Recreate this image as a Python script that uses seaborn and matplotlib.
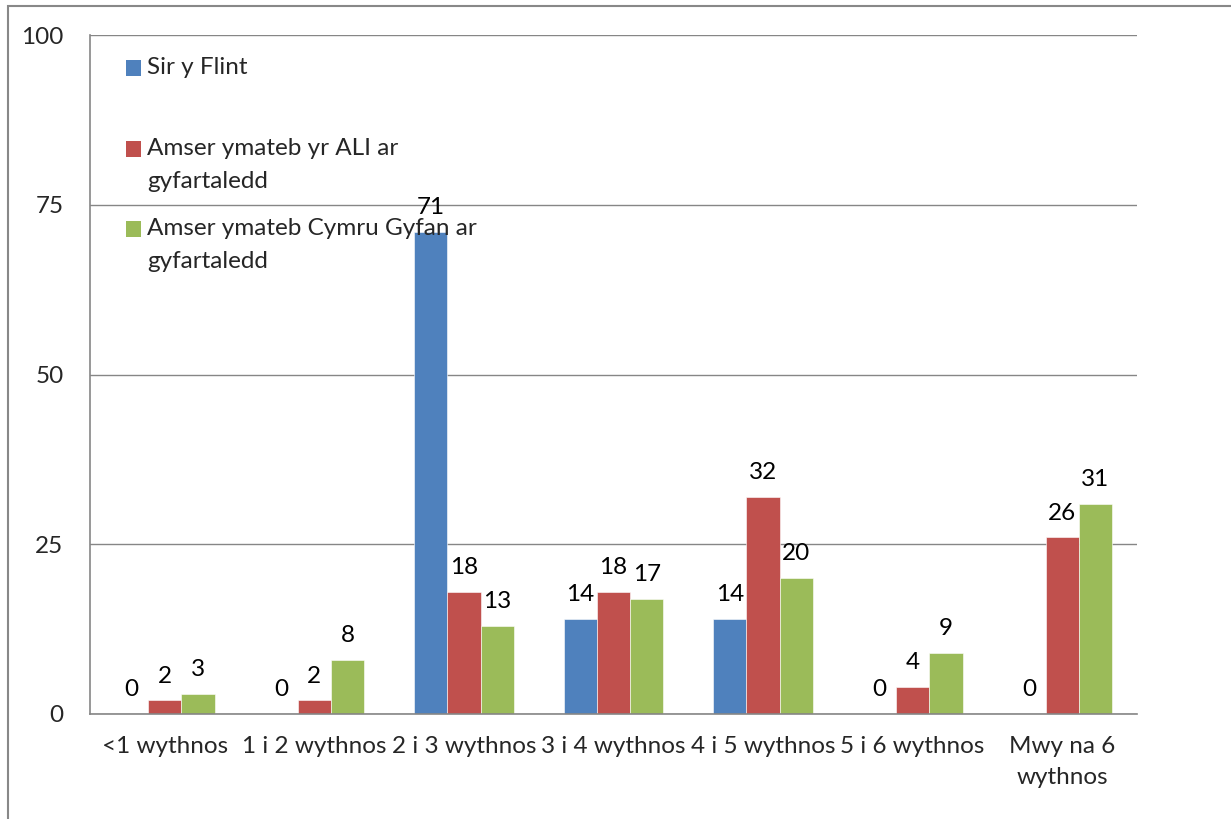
import numpy as np
import pandas as pd
import matplotlib
matplotlib.use("Agg")
import matplotlib.pyplot as plt
import seaborn as sns
from matplotlib.patches import Rectangle

# ---------- data ----------
categories = ["<1 wythnos", "1 i 2 wythnos", "2 i 3 wythnos", "3 i 4 wythnos",
              "4 i 5 wythnos", "5 i 6 wythnos", "Mwy na 6\nwythnos"]
series_names = ["Sir y Flint",
                "Amser ymateb yr ALI ar\ngyfartaledd",
                "Amser ymateb Cymru Gyfan ar\ngyfartaledd"]
sir_y_flint = [0, 0, 71, 14, 14, 0, 0]
ali_avg = [2, 2, 18, 18, 32, 4, 26]
cymru_avg = [3, 8, 13, 17, 20, 9, 31]
colors = ["#4F81BD", "#C0504D", "#9BBB59"]
yticks = [0, 25, 50, 75, 100]

df = pd.DataFrame({
    "cat": categories * 3,
    "series": [s for s in series_names for _ in categories],
    "val": sir_y_flint + ali_avg + cymru_avg,
})

# ---------- style ----------
sns.set_style("white")
plt.rcParams["font.family"] = ["Lato", "DejaVu Sans"]
FS = 17.5
GRID = "#868686"

W, H = 1231, 819
fig = plt.figure(figsize=(W / 100, H / 100), dpi=100)
ax = fig.add_axes([90 / W, (H - 714) / H, (1137 - 90) / W, (714 - 35) / H])

sns.barplot(data=df, x="cat", y="val", hue="series", palette=colors,
            hue_order=series_names, order=categories, width=0.667,
            saturation=1, legend=False, ax=ax, edgecolor="white", linewidth=0.4)

for cont in ax.containers:
    ax.bar_label(cont, fmt="%g", padding=10, fontsize=FS, color="black")

ax.set_ylim(0, 100)
ax.set_xlim(-0.5, len(categories) - 0.5)
ax.set_yticks(yticks)
ax.yaxis.grid(True, color=GRID, linewidth=1.0)
ax.set_axisbelow(True)
ax.set_xlabel("")
ax.set_ylabel("")

for side in ["top", "right"]:
    ax.spines[side].set_visible(False)
for side in ["left", "bottom"]:
    ax.spines[side].set_color(GRID)
    ax.spines[side].set_linewidth(1.2)

ax.tick_params(axis="y", length=6, width=1, color=GRID, pad=13, labelsize=FS)
ax.tick_params(axis="x", which="major", length=0, pad=16, labelsize=FS)
ax.set_xticks(np.arange(-0.5, len(categories), 1.0), minor=True)
ax.tick_params(axis="x", which="minor", length=5, width=1, color=GRID)
for lab in ax.get_xticklabels():
    lab.set_linespacing(1.55)

# ---------- legend (Excel style, handle at first line) ----------
def ax_y(px):
    return (714 - px) / 679

def ax_x(px):
    return (px - 90) / 1047

legend_rows = [
    (68, [74]),
    (149, [155, 188]),
    (229, [235, 268]),
]
for (cy, baselines), name, col in zip(legend_rows, series_names, colors):
    ax.add_patch(Rectangle((ax_x(126), ax_y(cy + 7.5)), 15 / 1047, 15 / 679,
                           transform=ax.transAxes, facecolor=col,
                           edgecolor="none", clip_on=False, zorder=5))
    for line, by in zip(name.split("\n"), baselines):
        ax.text(ax_x(147), ax_y(by), line, transform=ax.transAxes,
                fontsize=FS, va="baseline", ha="left", zorder=5)

# ---------- outer chart frame ----------
fig.patches.append(Rectangle((8 / W, -0.1), 1.2, 1.1 - 6 / H,
                             transform=fig.transFigure, fill=False,
                             edgecolor="#888888", linewidth=1.5))

fig.savefig("out.png", dpi=100)
